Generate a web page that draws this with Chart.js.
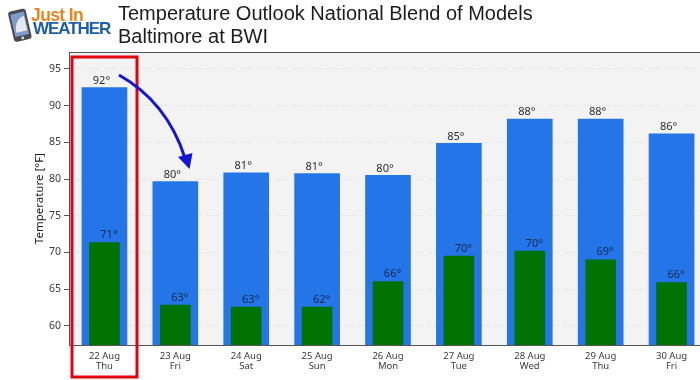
<!DOCTYPE html>
<html><head><meta charset="utf-8">
<style>
html,body{margin:0;padding:0;background:#fff;width:700px;height:380px;overflow:hidden}
#wrap{position:relative;width:700px;height:380px;overflow:hidden}
#box{position:absolute;left:0;top:0;width:708px;height:380px}
canvas{display:block}
.t{position:absolute;white-space:nowrap;font-family:"Liberation Sans",Arial,sans-serif}
#title{left:118px;top:2px;font-size:20px;line-height:23px;color:#1c1c1c}
#just{left:31px;top:5px;font-size:17.5px;font-weight:bold;color:#e8871f;letter-spacing:-.6px}
#weather{left:33px;top:19px;font-size:17px;font-weight:bold;color:#1d5ca8;letter-spacing:-1.05px}
svg{position:absolute;left:5px;top:7px}
</style></head><body>
<div id="wrap">
<div id="box"><canvas id="c" width="708" height="380"></canvas></div>
<svg width="30" height="38" viewBox="0 0 30 38"><g transform="rotate(-13 14 19)"><rect x="6" y="3" width="18" height="31" rx="3" fill="#4a4a4e"/><rect x="8" y="6" width="14" height="23" fill="#7d9ccb"/><path d="M10 25c0-9 5-14 11-15v15z" fill="#e6e8ee"/><circle cx="15" cy="31.5" r="1.4" fill="#ddd"/></g></svg>
<div class="t" id="just">Just In</div>
<div class="t" id="weather">WEATHER</div>
<div class="t" id="title">Temperature Outlook National Blend of Models<br>Baltimore at BWI</div>
</div>
<script src="https://cdn.jsdelivr.net/npm/chart.js@4"></script>
<script>
const days=[["22 Aug","Thu"],["23 Aug","Fri"],["24 Aug","Sat"],["25 Aug","Sun"],["26 Aug","Mon"],["27 Aug","Tue"],["28 Aug","Wed"],["29 Aug","Thu"],["30 Aug","Fri"]];
const highs=[92.45,79.65,80.85,80.75,80.5,84.85,88.15,88.15,86.15];
const lows=[71.35,62.85,62.55,62.55,66.05,69.5,70.2,69,65.9];
const highLabels=["92°","80°","81°","81°","80°","85°","88°","88°","86°"];
const lowLabels=["71°","63°","63°","62°","66°","70°","70°","69°","66°"];
const yTicks=[60,65,70,75,80,85,90,95];
const FONT='"Noto Sans","Open Sans",sans-serif';

const decor={
 id:'decor',
 beforeDraw(ch){
  const a=ch.chartArea,c=ch.ctx;
  c.save();c.fillStyle='#f4f3f3';c.fillRect(a.left,a.top,a.right-a.left,a.bottom-a.top);c.restore();
 },
 afterDraw(ch){
  const a=ch.chartArea,c=ch.ctx;
  c.save();
  c.strokeStyle='#555';c.lineWidth=1;
  c.beginPath();c.moveTo(a.left,a.top+.5);c.lineTo(a.right,a.top+.5);c.stroke();
  c.font='11px '+FONT;c.textAlign='center';c.textBaseline='middle';
  const m0=ch.getDatasetMeta(0).data,m1=ch.getDatasetMeta(1).data;
  c.fillStyle='#2e2e2e';
  m0.forEach((b,i)=>c.fillText(highLabels[i],b.x-3,b.y-7));
  c.fillStyle='#16294d';
  m1.forEach((b,i)=>c.fillText(lowLabels[i],b.x+4.5,b.y-7.5));
  // red highlight box
  c.strokeStyle='#e3000f';c.lineWidth=3;c.strokeRect(72,57,65,320);
  // blue arrow
  c.strokeStyle='#1414d6';c.fillStyle='#1414d6';c.lineWidth=3;
  c.beginPath();c.moveTo(119,75);c.quadraticCurveTo(167,102,185,158);c.stroke();
  c.beginPath();c.moveTo(178,157);c.lineTo(192.5,153);c.lineTo(189.5,169);c.closePath();c.fill();
  c.restore();
 }
};

new Chart(document.getElementById('c'),{
 type:'bar',
 data:{labels:days,datasets:[
  {label:'High',data:highs,backgroundColor:'#2375e8',barThickness:45,order:2},
  {label:'Low',data:lows,backgroundColor:'#027202',barThickness:30,order:1}
 ]},
 plugins:[decor],
 options:{
  responsive:false,animation:false,
  layout:{padding:{top:52,right:1,left:30,bottom:0}},
  plugins:{legend:{display:false},tooltip:{enabled:false}},
  scales:{
   x:{stacked:false,
    grid:{display:false,drawTicks:true,tickLength:4,tickColor:'#555'},
    border:{color:'#555'},
    ticks:{font:{family:FONT,size:9.5,lineHeight:1.1},color:'#3a3a3a',maxRotation:0,autoSkip:false,padding:2},
    afterFit(s){s.height=35}
   },
   y:{min:57.4,max:97.3,
    afterBuildTicks(s){s.ticks=yTicks.map(v=>({value:v}))},
    grid:{color:'#ebeaea',tickColor:'#555',tickLength:5,drawTicks:true},
    border:{color:'#555',dash:[14,3]},
    ticks:{font:{family:FONT,size:10.5},color:'#3a3a3a',padding:3},
    title:{display:true,text:'Temperature [°F]',font:{family:FONT,size:11.5},color:'#222',padding:{top:3,bottom:0}},
    afterFit(s){s.width=39}
   }
  },
  datasets:{bar:{grouped:false}}
 }
});
</script>
</body></html>
